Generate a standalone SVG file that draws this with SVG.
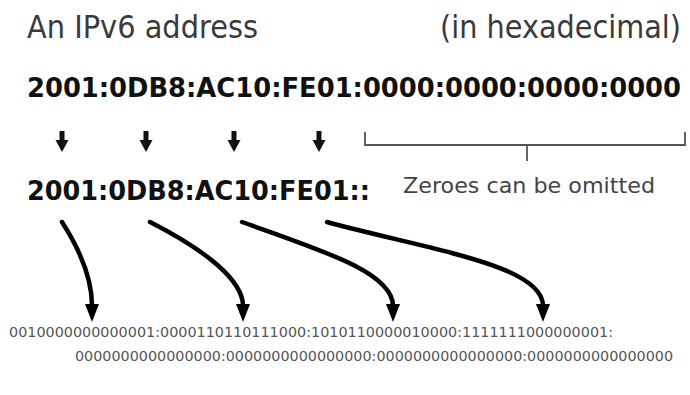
<svg xmlns="http://www.w3.org/2000/svg" width="690" height="395" viewBox="0 0 690 395">
<style>
.title{font-family:"DejaVu Sans","Liberation Sans",sans-serif;font-size:28.8px;fill:#3a3a3a}
.hex{font-family:"DejaVu Sans","Liberation Sans",sans-serif;font-size:25.8px;font-weight:bold;fill:#111}
.note{font-family:"DejaVu Sans","Liberation Sans",sans-serif;font-size:22px;fill:#444}
.bin{font-family:"DejaVu Sans","Liberation Sans",sans-serif;font-size:14px;fill:#555}
.curve{fill:none;stroke:#000;stroke-width:4.5;stroke-linecap:round}
.bracket{fill:none;stroke:#555;stroke-width:1.8}
</style>
<defs>
<path id="smallArrow" d="M-2.5,0 H2.5 V9 H6.5 L0,21 L-6.5,9 H-2.5 Z" fill="#111"/>
</defs>
<g id="title">
<text class="title" transform="translate(27,38) scale(1,1.1)" x="0" y="0" textLength="231" lengthAdjust="spacingAndGlyphs">An IPv6 address</text>
<text class="title" transform="translate(440,38) scale(1,1.1)" x="0" y="0" textLength="241" lengthAdjust="spacingAndGlyphs">(in hexadecimal)</text>
</g>
<g id="full-address">
<text class="hex" transform="translate(27,97) scale(1,1.05)" x="0" y="0" textLength="654" lengthAdjust="spacingAndGlyphs">2001:0DB8:AC10:FE01:0000:0000:0000:0000</text>
</g>
<g id="short-address">
<text class="hex" transform="translate(27,200) scale(1,1.05)" x="0" y="0" textLength="343" lengthAdjust="spacingAndGlyphs">2001:0DB8:AC10:FE01::</text>
</g>
<g id="omit-note">
<path class="bracket" d="M365,132 V145 H685 V132 M527,145 V161"/>
<text class="note" x="403" y="193" textLength="252" lengthAdjust="spacingAndGlyphs">Zeroes can be omitted</text>
</g>
<g id="binary">
<text class="bin" x="9" y="337" textLength="604" lengthAdjust="spacingAndGlyphs">0010000000000001:0000110110111000:1010110000010000:1111111000000001:</text>
<text class="bin" x="75" y="361" textLength="598" lengthAdjust="spacingAndGlyphs">0000000000000000:0000000000000000:0000000000000000:0000000000000000</text>
</g>
<g id="connectors">
<use href="#smallArrow" x="62" y="131"/>
<use href="#smallArrow" x="146" y="131"/>
<use href="#smallArrow" x="234" y="131"/>
<use href="#smallArrow" x="319" y="131"/>
<path class="curve" d="M62,222 C80,250 92,280 92,306"/>
<path class="curve" d="M150,222 C205,250 243,280 243,306"/>
<path class="curve" d="M242,222 C320,250 393,272 393,306"/>
<path class="curve" d="M327,222 C430,250 543,265 543,306"/>
<polygon points="85,304 99,304 92,322" fill="#000"/>
<polygon points="236,304 250,304 243,322" fill="#000"/>
<polygon points="386,304 400,304 393,322" fill="#000"/>
<polygon points="536,304 550,304 543,322" fill="#000"/>
</g>
</svg>
